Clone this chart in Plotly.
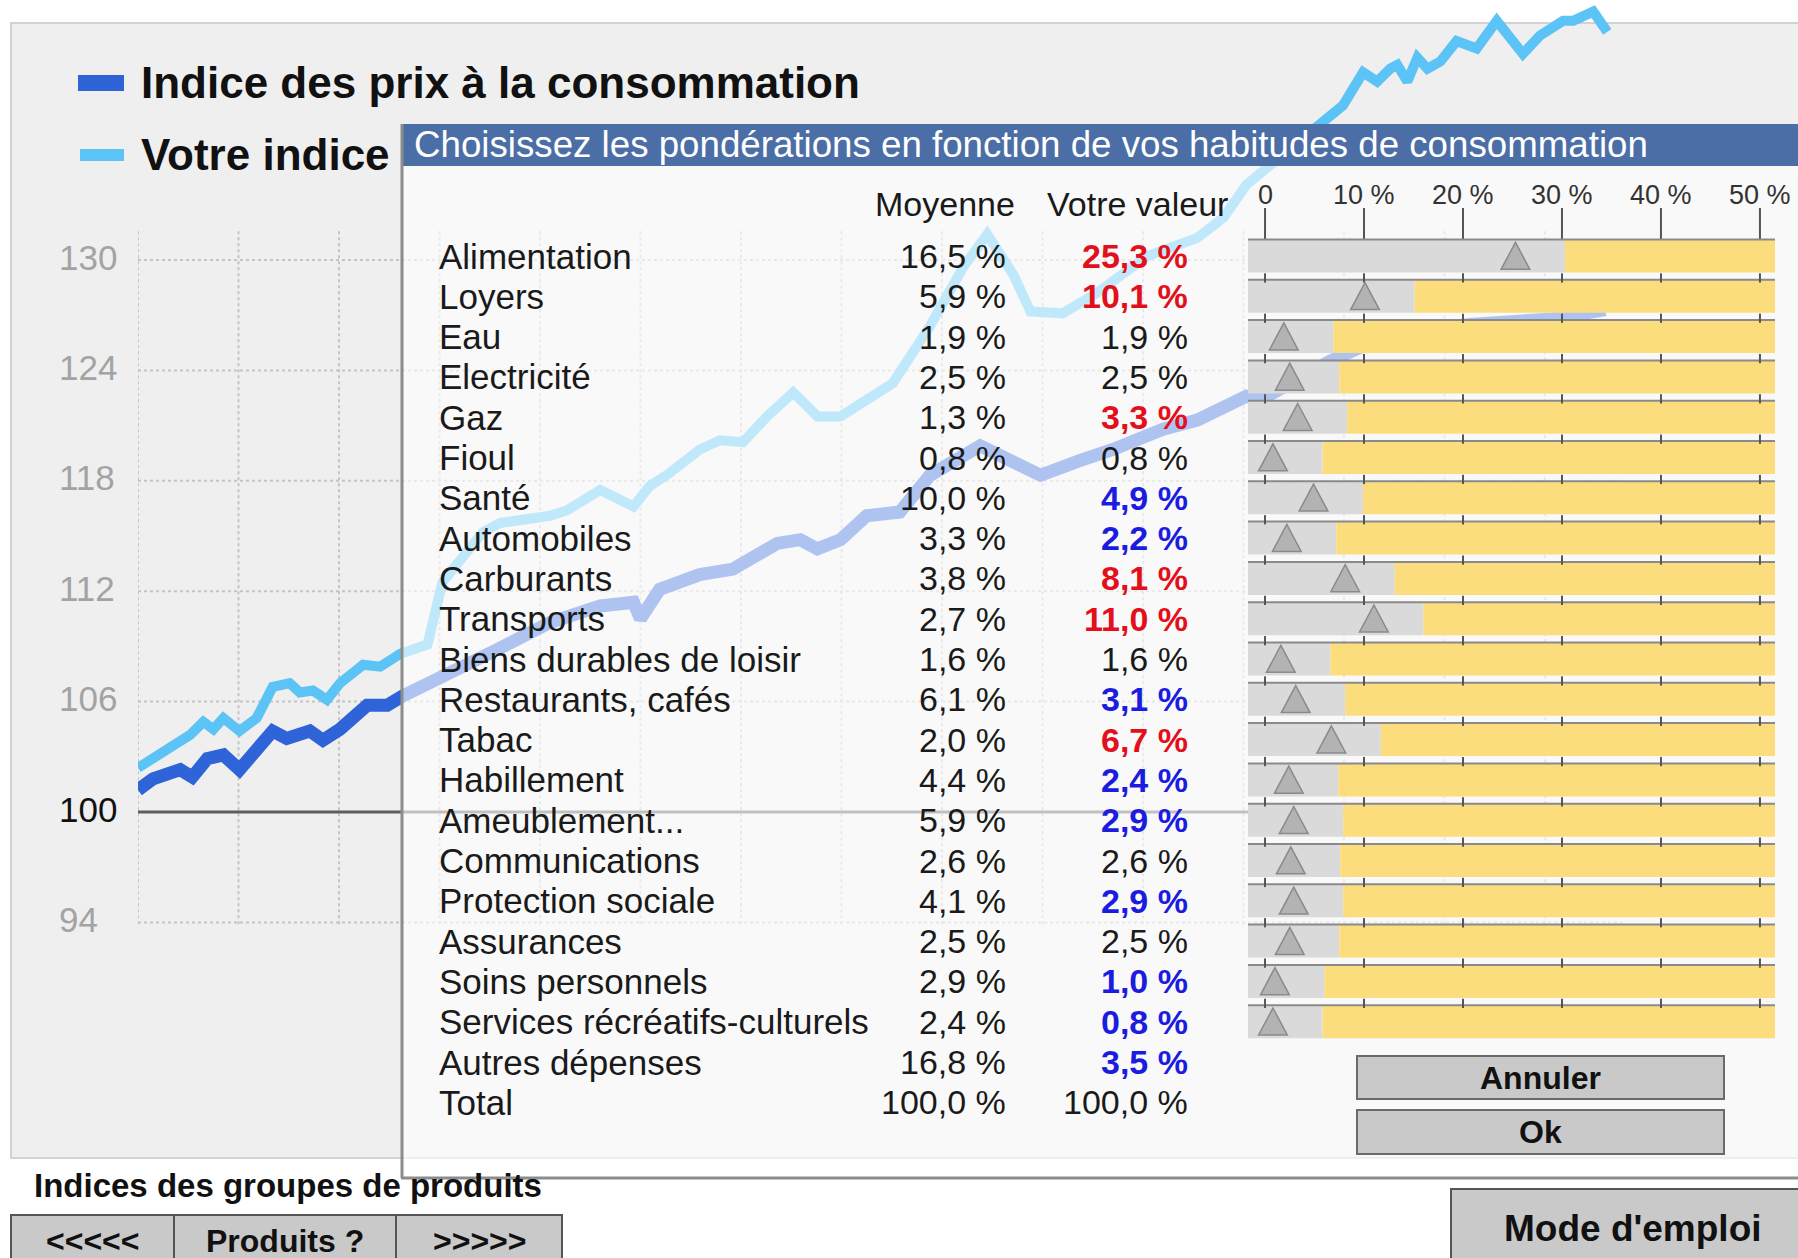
import plotly.graph_objects as go

W, H = 1798, 1258
FONT = "Liberation Sans, Arial, Helvetica, sans-serif"

# ---------------- data ----------------
t_cpi = [0.00, 0.15, 0.42, 0.54, 0.69, 0.85, 1.01, 1.18, 1.34, 1.48, 1.71, 1.84, 2.01, 2.28, 2.48,
         2.63, 2.94, 3.60, 4.10, 4.60, 4.93, 5.00, 5.19, 5.42, 5.59, 5.92, 6.09, 6.36, 6.59, 6.76,
         6.99, 7.25, 7.58, 7.88, 8.38, 8.71, 8.98, 9.37, 9.70, 10.20, 10.54, 11.03, 11.17, 11.86,
         12.46, 13.25, 14.08, 14.60]
cpi = [101.2, 101.8, 102.3, 101.9, 102.9, 103.1, 102.3, 103.3, 104.4, 104.0, 104.4, 103.9, 104.5,
       105.8, 105.8, 106.3, 107.1, 108.9, 110.3, 111.2, 111.4, 110.5, 112.1, 112.5, 112.9, 113.2,
       113.7, 114.6, 114.8, 114.3, 114.8, 116.1, 116.3, 118.3, 119.9, 119.1, 118.3, 119.1, 119.7,
       120.8, 121.3, 122.6, 122.4, 124.5, 126.0, 126.5, 126.8, 127.3]

t_user = [0.00, 0.15, 0.35, 0.52, 0.65, 0.75, 0.85, 1.01, 1.18, 1.34, 1.51, 1.61, 1.74, 1.88, 2.01,
          2.24, 2.41, 2.61, 2.88, 3.03, 3.43, 3.60, 4.10, 4.27, 4.60, 4.93, 5.09, 5.26, 5.59, 5.79,
          6.02, 6.26, 6.52, 6.76, 6.99, 7.25, 7.51, 7.88, 8.21, 8.45, 8.71, 8.88, 9.20, 9.54, 10.04,
          10.54, 10.80, 11.03, 11.46, 11.76, 11.99, 12.19, 12.33, 12.46, 12.53, 12.63, 12.73, 12.83,
          12.96, 13.12, 13.32, 13.52, 13.78, 13.95, 14.18, 14.28, 14.48, 14.62]
user = [102.4, 102.9, 103.5, 104.2, 104.9, 104.5, 105.1, 104.4, 105.1, 106.8, 107.0, 106.5, 106.6,
        106.1, 107.0, 108.0, 107.9, 108.6, 109.1, 112.5, 115.2, 115.7, 116.1, 116.4, 117.5, 116.6,
        117.7, 118.3, 119.7, 120.2, 120.1, 121.5, 122.8, 121.5, 121.5, 122.4, 123.3, 126.4, 129.6,
        131.4, 129.2, 127.2, 127.1, 128.2, 130.2, 131.2, 132.3, 134.1, 136.0, 137.3, 138.4, 140.2,
        139.7, 140.4, 140.6, 139.7, 141.0, 140.4, 140.8, 141.9, 141.5, 143.0, 141.2, 142.2, 143.0,
        143.0, 143.5, 142.4]

ytick_vals = [94, 100, 106, 112, 118, 124, 130]
grid_years = list(range(0, 15))

categories = ["Alimentation", "Loyers", "Eau", "Electricité", "Gaz", "Fioul", "Santé",
              "Automobiles", "Carburants", "Transports", "Biens durables de loisir",
              "Restaurants, cafés", "Tabac", "Habillement", "Ameublement...", "Communications",
              "Protection sociale", "Assurances", "Soins personnels",
              "Services récréatifs-culturels", "Autres dépenses"]
moyenne = [16.5, 5.9, 1.9, 2.5, 1.3, 0.8, 10.0, 3.3, 3.8, 2.7, 1.6, 6.1, 2.0, 4.4, 5.9, 2.6,
           4.1, 2.5, 2.9, 2.4, 16.8]
votre = [25.3, 10.1, 1.9, 2.5, 3.3, 0.8, 4.9, 2.2, 8.1, 11.0, 1.6, 3.1, 6.7, 2.4, 2.9, 2.6,
         2.9, 2.5, 1.0, 0.8, 3.5]
totals = [100.0, 100.0]
n_sliders = 20
slider_ticks = [0, 10, 20, 30, 40, 50]
slider_labels = ["0", "10 %", "20 %", "30 %", "40 %", "50 %"]
slider_margin = 5.0

# ---------------- geometry helpers ----------------
def px(x):
    return x / W


def py(y):
    return 1 - y / H


def rect(x0, y0, x1, y1, **kw):
    return dict(type="rect", xref="paper", yref="paper", x0=px(x0), x1=px(x1),
                y0=py(y1), y1=py(y0), **kw)


def hline(x0, x1, y, color, width, layer="above", dash="solid"):
    return dict(type="line", xref="paper", yref="paper", x0=px(x0), x1=px(x1), y0=py(y),
                y1=py(y), line=dict(color=color, width=width, dash=dash), layer=layer)


def label(x, y, text, size, color="#111", anchor="left", bold=False, **kw):
    if bold:
        text = "<b>" + text + "</b>"
    d = dict(x=px(x), y=py(y), xref="paper", yref="paper", text=text, showarrow=False,
             xanchor=anchor, yanchor="middle", font=dict(size=size, color=color, family=FONT))
    d.update(kw)
    return d


def fmt(v):
    return f"{v:.1f}".replace(".", ",") + " %"


# axis geometry
X_RANGE = [0, 14.8]
X_PX = [138, 138 + 14.8 * 100.5]
Y_TOP_PX, Y_BOT_PX = 0, 930
PX_PER_UNIT = 18.4
Y_RANGE = [100 - (Y_BOT_PX - 812) / PX_PER_UNIT, 100 + 812 / PX_PER_UNIT]

ROW0, ROWH = 256.0, 40.3
ROW_TOP, ROW_BOT = -2.0, 21.5
S_RANGE = [-1.72, 51.52]
S_PX = [1248, 1775]

fig = go.Figure()
fig.add_trace(go.Scatter(x=t_cpi, y=cpi, mode="lines", name="Indice des prix à la consommation",
                         line=dict(color="#2f63d8", width=13), xaxis="x", yaxis="y"))
fig.add_trace(go.Scatter(x=t_user, y=user, mode="lines", name="Votre indice",
                         line=dict(color="#5bc3f5", width=10), xaxis="x", yaxis="y"))
# invisible anchor trace for the slider subplot
fig.add_trace(go.Scatter(x=votre[:n_sliders], y=list(range(n_sliders)), mode="markers",
                         marker=dict(opacity=0), xaxis="x2", yaxis="y2", hoverinfo="skip"))

shapes = []
ann = []

# chart panel
shapes.append(rect(11, 23, 1830, 1158, fillcolor="#efefef", line=dict(color="#d2d2d2", width=2),
                   layer="below"))

# grid (drawn through the axes)
for g in grid_years:
    shapes.append(dict(type="line", xref="x", yref="y", x0=g, x1=g, y0=93.9, y1=131.7,
                       line=dict(color="#c4c4c4", width=2, dash="dot"), layer="below"))
for v in ytick_vals:
    if v == 100:
        shapes.append(dict(type="line", xref="x", yref="y", x0=X_RANGE[0], x1=X_RANGE[1], y0=v, y1=v,
                           line=dict(color="#5e5e5e", width=3), layer="below"))
    else:
        shapes.append(dict(type="line", xref="x", yref="y", x0=X_RANGE[0], x1=X_RANGE[1], y0=v, y1=v,
                           line=dict(color="#c4c4c4", width=2, dash="dot"), layer="below"))
    ann.append(dict(x=px(57), xref="paper", y=v, yref="y", text=str(v), showarrow=False,
                    xanchor="left", yanchor="middle", yshift=3,
                    font=dict(size=35, family=FONT, color="#111" if v == 100 else "#a3a3a3")))

# legend
shapes.append(hline(78, 124, 83, "#2f63d8", 16))
shapes.append(hline(80, 124, 155, "#5bc3f5", 12))
ann.append(label(139, 83, "Indice des prix à la consommation", 44, bold=True))
ann.append(label(139, 155, "Votre indice", 44, bold=True))

# bottom-left
ann.append(label(32, 1185, "Indices des groupes de produits", 33, bold=True))
for (x0, x1, t) in [(11, 174, "&lt;&lt;&lt;&lt;&lt;"), (174, 396, "Produits ?"),
                    (396, 562, "&gt;&gt;&gt;&gt;&gt;")]:
    shapes.append(rect(x0, 1215, x1, 1275, fillcolor="#c9c9c9", line=dict(color="#555", width=2),
                       layer="above"))
    ann.append(label((x0 + x1) / 2, 1241, t, 32, anchor="center", bold=True))

# Mode d'emploi button
shapes.append(rect(1451, 1189, 1820, 1280, fillcolor="#c9c9c9", line=dict(color="#555", width=2),
                   layer="above"))
ann.append(label(1633, 1228, "Mode d'emploi", 37, anchor="center", bold=True))

# ---------------- dialog ----------------
shapes.append(rect(401, 166, 1830, 1178, fillcolor="rgba(255,255,255,0.62)", line=dict(width=0),
                   layer="above"))
shapes.append(rect(401, 124, 1830, 166, fillcolor="#4b6ea6", line=dict(width=0), layer="above"))
shapes.append(dict(type="line", xref="paper", yref="paper", x0=px(402), x1=px(402), y0=py(1178),
                   y1=py(124), line=dict(color="#8c8c8c", width=3), layer="above"))
shapes.append(hline(401, 1830, 1178, "#8c8c8c", 3))
ann.append(label(412, 145, "Choisissez les pondérations en fonction de vos habitudes de consommation",
                 36.7, color="#ffffff"))

# table
ann.append(dict(x=px(945), xref="paper", y=-1.29, yref="y2", text="Moyenne", showarrow=False,
                xanchor="center", yanchor="middle", font=dict(size=34, family=FONT, color="#1a1a1a")))
ann.append(dict(x=px(1137), xref="paper", y=-1.29, yref="y2", text="Votre valeur", showarrow=False,
                xanchor="center", yanchor="middle", font=dict(size=34, family=FONT, color="#1a1a1a")))
rows_text = categories + ["Total"]
moy_all = moyenne + [totals[0]]
vot_all = votre + [totals[1]]
for i, (c, m, v) in enumerate(zip(rows_text, moy_all, vot_all)):
    ann.append(dict(x=px(437), xref="paper", y=i, yref="y2", text=c, showarrow=False,
                    xanchor="left", yanchor="middle", font=dict(size=35, family=FONT, color="#1a1a1a")))
    ann.append(dict(x=px(1008), xref="paper", y=i, yref="y2", text=fmt(m), showarrow=False,
                    xanchor="right", yanchor="middle", font=dict(size=34, family=FONT, color="#1a1a1a")))
    if i < len(categories) and v > m:
        txt, col = "<b>" + fmt(v) + "</b>", "#e3101c"
    elif i < len(categories) and v < m:
        txt, col = "<b>" + fmt(v) + "</b>", "#1c1ce0"
    else:
        txt, col = fmt(v), "#1a1a1a"
    ann.append(dict(x=px(1190), xref="paper", y=i, yref="y2", text=txt, showarrow=False,
                    xanchor="right", yanchor="middle", font=dict(size=34, family=FONT, color=col)))

# sliders (shapes through x2 / y2 axes)
half = 0.41
for tv, tl in zip(slider_ticks, slider_labels):
    shapes.append(dict(type="line", xref="x2", yref="y2", x0=tv, x1=tv, y0=-half - 0.78, y1=-half,
                       line=dict(color="#555", width=2), layer="above"))
    ann.append(dict(x=tv, xref="x2", y=-1.52, yref="y2", text=tl, showarrow=False,
                    xanchor="center", yanchor="middle", font=dict(size=27, family=FONT, color="#333")))
for i in range(n_sliders):
    v = votre[i]
    shapes.append(dict(type="rect", xref="x2", yref="y2", x0=S_RANGE[0], x1=v + slider_margin,
                       y0=i - half, y1=i + half, fillcolor="#dadada", line=dict(width=0),
                       layer="above"))
    shapes.append(dict(type="rect", xref="x2", yref="y2", x0=v + slider_margin, x1=S_RANGE[1],
                       y0=i - half, y1=i + half, fillcolor="#fcdd7e", line=dict(width=0),
                       layer="above"))
    shapes.append(dict(type="line", xref="x2", yref="y2", x0=S_RANGE[0], x1=S_RANGE[1],
                       y0=i - half, y1=i - half, line=dict(color="#8a8a8a", width=2), layer="above"))
    if i > 0:
        for tv in slider_ticks:
            shapes.append(dict(type="line", xref="x2", yref="y2", x0=tv, x1=tv, y0=i - half - 0.16,
                               y1=i - half + 0.07, line=dict(color="#555", width=2), layer="above"))
    shapes.append(dict(type="path", xref="x2", yref="y2",
                       path=f"M {v - 1.45},{i + 0.33} L {v + 1.45},{i + 0.33} L {v},{i - 0.34} Z",
                       fillcolor="#b3b3b3", line=dict(color="#8a8a8a", width=1.5), layer="above"))

# buttons
for (y0, y1, t) in [(1056, 1099, "Annuler"), (1110, 1154, "Ok")]:
    shapes.append(rect(1357, y0, 1724, y1, fillcolor="#c9c9c9", line=dict(color="#6a6a6a", width=2),
                       layer="above"))
    ann.append(label(1540, (y0 + y1) / 2, t, 32, anchor="center", bold=True))

fig.update_layout(
    width=W, height=H,
    margin=dict(l=0, r=0, t=0, b=0, pad=0),
    paper_bgcolor="#ffffff", plot_bgcolor="rgba(0,0,0,0)",
    font=dict(family=FONT),
    showlegend=False,
    xaxis=dict(domain=[px(X_PX[0]), px(X_PX[1])], range=X_RANGE, visible=False, fixedrange=True),
    yaxis=dict(domain=[py(Y_BOT_PX), py(Y_TOP_PX)], range=Y_RANGE, showgrid=False,
               showticklabels=False, zeroline=False, ticks="", fixedrange=True),
    xaxis2=dict(domain=[px(S_PX[0]), px(S_PX[1])], range=S_RANGE, anchor="y2", visible=False,
                fixedrange=True),
    yaxis2=dict(domain=[py(ROW0 + ROW_BOT * ROWH), py(ROW0 + ROW_TOP * ROWH)],
                range=[ROW_BOT, ROW_TOP], anchor="x2", visible=False, fixedrange=True),
    shapes=shapes,
    annotations=ann,
    hovermode=False,
)

fig.write_html("out.html", config={"displayModeBar": False, "staticPlot": True},
               post_script="document.body.style.margin='0';document.body.style.overflow='hidden';")
